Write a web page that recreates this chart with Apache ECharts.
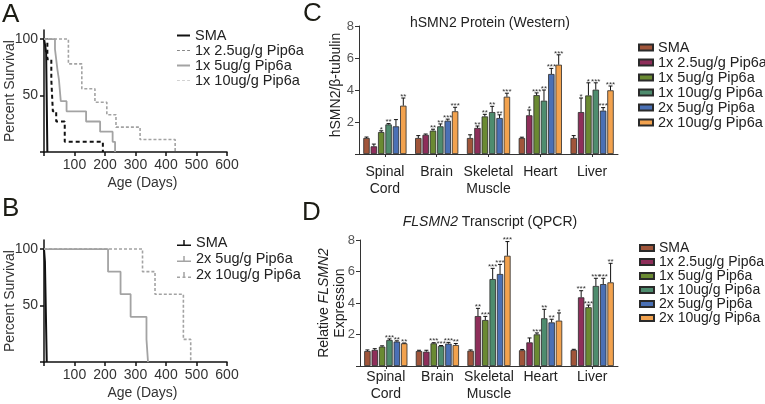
<!DOCTYPE html>
<html>
<head>
<meta charset="utf-8">
<script src="https://cdn.jsdelivr.net/npm/echarts@6/dist/echarts.min.js"></script>
<style>html,body{margin:0;background:#fff}#main{width:765px;height:404px}</style>
</head>
<body>
<div id="main"></div>
<script>
// --- survival curves, [day, % surviving] ---
const survA_SMA = [[0, 100], [4, 94], [7, 88], [11, 0]];
const survA_1x25 = [[0, 100], [11, 82], [24, 64], [29, 36], [40, 27], [68, 9], [193, 0]];
const survA_1x5 = [[0, 100], [36, 91], [40, 82], [44, 73], [49, 64], [55, 45], [74, 36], [138, 27], [184, 18], [225, 9], [233, 0]];
const survA_1x10 = [[0, 100], [80, 78], [124, 56], [167, 44], [206, 33], [236, 22], [315, 11], [430, 0]];

const survB_SMA = [[0, 100], [3, 89], [9, 0]];
const survB_2x5 = [[0, 100], [210, 80], [251, 60], [284, 40], [336, 20], [341, 0]];
const survB_2x10 = [[0, 100], [323, 80], [364, 60], [457, 20], [481, 0]];

const ageTicks = [100, 200, 300, 400, 500, 600];

// --- bar panels ---
const tissues = ['Spinal\nCord', 'Brain', 'Skeletal\nMuscle', 'Heart', 'Liver'];
const groups = ['SMA', '1x 2.5ug/g Pip6a', '1x 5ug/g Pip6a', '1x 10ug/g Pip6a', '2x 5ug/g Pip6a', '2x 10ug/g Pip6a'];
const groupColors = ['#a0553a', '#8e2e5a', '#6a8a32', '#4e8c6e', '#4a70b5', '#f2a24e'];

// hSMN2 protein (western), one row per group, one value per tissue
const westernMean = [
    [1.0, 1.0, 1.0, 1.0, 1.0],
    [0.48, 1.2, 1.63, 2.42, 2.62],
    [1.37, 1.46, 2.35, 3.68, 3.66],
    [1.85, 1.73, 2.62, 3.33, 4.02],
    [1.73, 2.08, 2.25, 5.0, 2.71],
    [3.02, 2.67, 3.58, 5.58, 3.98]
];
const westernTop = [
    [1.06, 1.15, 1.2, 1.05, 1.15],
    [0.62, 1.25, 1.75, 2.75, 3.5],
    [1.45, 1.55, 2.48, 3.82, 4.45],
    [1.9, 1.88, 2.98, 4.0, 4.45],
    [2.15, 2.18, 2.45, 5.35, 2.9],
    [3.5, 2.92, 3.8, 6.2, 4.25]
];
const westernStars = [
    ['', '', '', '', ''],
    ['', '', '**', '*', '*'],
    ['*', '**', '**', '***', '*'],
    ['**', '**', '**', '**', '***'],
    ['', '***', '**', '***', '***'],
    ['**', '***', '***', '***', '***']
];

// FLSMN2 transcript (qPCR)
const qpcrMean = [
    [0.95, 0.95, 0.97, 1.0, 1.02],
    [1.02, 0.91, 3.17, 1.5, 4.36],
    [1.23, 1.44, 2.92, 2.01, 3.73],
    [1.65, 1.27, 5.52, 3.03, 5.08],
    [1.55, 1.42, 5.84, 2.77, 5.2],
    [1.44, 1.33, 7.0, 2.88, 5.31]
];
const qpcrTop = [
    [1.02, 1.0, 1.02, 1.05, 1.06],
    [1.1, 1.0, 3.66, 1.78, 4.78],
    [1.28, 1.48, 3.15, 2.1, 3.87],
    [1.72, 1.3, 6.2, 3.6, 5.57],
    [1.6, 1.5, 6.45, 2.97, 5.57],
    [1.46, 1.43, 7.9, 3.37, 6.52]
];
const qpcrStars = [
    ['', '', '', '', ''],
    ['', '', '**', '', '***'],
    ['', '***', '***', '***', '***'],
    ['***', '***', '***', '**', '***'],
    ['**', '***', '***', '**', '***'],
    ['**', '**', '***', '*', '**']
];

const FONT = 'Liberation Sans';
const BAR_W = 6.4, BAR_GAP = 0.15;
const grey = '#a3a3a3';

// legend glyphs (stretched to itemWidth x itemHeight)
const iconSolid = 'rect';
const iconDash = 'path://M0,0h4v1h-4zM7,0h4v1h-4zM14,0h4v1h-4z';
const iconTickSolid = 'path://M0,4.5h14v1.5h-14zM6.25,0h1.5v4.5h-1.5z';
const iconTickDash = 'path://M0,4.5h3v1.5h-3zM5.5,4.5h3v1.5h-3zM11,4.5h3v1.5h-3zM6.25,0h1.5v4.5h-1.5z';

const chart = echarts.init(document.getElementById('main'), null, {renderer: 'canvas'});

function survX(grid) {
    return {
        type: 'value', gridIndex: grid, min: 0, max: 600, interval: 100,
        name: 'Age (Days)', nameLocation: 'middle', nameGap: 24, nameMoveOverlap: false,
        nameTextStyle: {fontSize: 14, color: '#333', padding: [0, 0, 0, 14]},
        axisLine: {show: true, lineStyle: {color: '#111', width: 1.5}},
        axisTick: {show: true, length: 4, lineStyle: {color: '#111', width: 1.5}},
        axisLabel: {fontSize: 14, color: '#333', margin: 6, customValues: ageTicks},
        splitLine: {show: false}
    };
}

function survY(grid) {
    return {
        type: 'value', gridIndex: grid, min: 0, max: 108, interval: 50,
        name: 'Percent Survival', nameLocation: 'middle', nameGap: 27, nameMoveOverlap: false,
        nameTextStyle: {fontSize: 14, color: '#333', lineHeight: 14},
        axisLine: {show: true, lineStyle: {color: '#111', width: 1.5}},
        axisTick: {show: true, length: 4, customValues: [0, 50, 100], lineStyle: {color: '#111', width: 1.5}},
        axisLabel: {fontSize: 14, color: '#333', margin: 6, customValues: [50, 100]},
        splitLine: {show: false}
    };
}

function barX(grid, margin) {
    return {
        type: 'category', gridIndex: grid, data: tissues,
        axisLine: {show: true, lineStyle: {color: '#333', width: 1}},
        axisTick: {show: true, alignWithLabel: true, length: 3, lineStyle: {color: '#333'}},
        axisLabel: {fontSize: 14, color: '#222', lineHeight: 17, margin: margin, interval: 0}
    };
}

function barY(grid, name, gap, pad, rich) {
    return {
        type: 'value', gridIndex: grid, min: 0, max: 8, interval: 2,
        name: name, nameLocation: 'middle', nameGap: gap, nameMoveOverlap: false,
        nameTextStyle: {fontSize: 14, color: '#222', lineHeight: 16, padding: pad, rich: rich},
        axisLine: {show: true, lineStyle: {color: '#333', width: 1}},
        axisTick: {show: true, length: 4, lineStyle: {color: '#333'}},
        axisLabel: {fontSize: 13, color: '#555', margin: 5, customValues: [2, 4, 6, 8]},
        splitLine: {show: false}
    };
}

function survLine(name, grid, data, color, width, type) {
    return {
        name: name, type: 'line', xAxisIndex: grid, yAxisIndex: grid, data: data,
        step: 'end', symbol: 'none', showSymbol: false,
        itemStyle: {color: color},
        lineStyle: {color: color, width: width, type: type}
    };
}

function barSeries(prefix, grid, means) {
    return groups.map(function (g, i) {
        return {
            name: prefix + g, type: 'bar', xAxisIndex: grid, yAxisIndex: grid,
            data: means[i], barWidth: BAR_W, barGap: (BAR_GAP * 100) + '%',
            itemStyle: {color: groupColors[i], borderColor: '#2a2a2a', borderWidth: 0.8}
        };
    });
}

// error bars + significance stars, placed with the same offsets the bar layout uses
function errorSeries(grid, means, tops, stars) {
    const rows = [];
    for (let g = 0; g < groups.length; g++) {
        for (let t = 0; t < tissues.length; t++) {
            rows.push([t, tops[g][t], means[g][t], g]);
        }
    }
    const n = groups.length;
    const total = n * BAR_W * (1 + BAR_GAP) - BAR_W * BAR_GAP;
    return {
        type: 'custom', xAxisIndex: grid, yAxisIndex: grid, data: rows, z: 5,
        renderItem: function (params, api) {
            const t = api.value(0), top = api.value(1), mean = api.value(2), g = api.value(3);
            const base = api.coord([t, mean]);
            const tip = api.coord([t, top]);
            const x = base[0] - total / 2 + g * BAR_W * (1 + BAR_GAP) + BAR_W / 2;
            const children = [
                {type: 'line', shape: {x1: x, y1: base[1], x2: x, y2: tip[1]}, style: {stroke: '#111', lineWidth: 1}},
                {type: 'line', shape: {x1: x - 2, y1: tip[1], x2: x + 2, y2: tip[1]}, style: {stroke: '#111', lineWidth: 1}}
            ];
            const s = stars[g][t];
            if (s) {
                children.push({
                    type: 'text',
                    style: {text: s, x: x, y: tip[1] - 1.5, align: 'center', verticalAlign: 'middle',
                        fontSize: 8, fontFamily: FONT, fill: '#333'}
                });
            }
            return {type: 'group', children: children};
        }
    };
}

const stripPrefix = function (name) { return name.slice(2); };

const option = {
    animation: false,
    textStyle: {fontFamily: FONT},
    grid: [
        {left: 44, top: 30, width: 183, height: 122, outerBoundsMode: 'none'},
        {left: 44, top: 240, width: 183, height: 122, outerBoundsMode: 'none'},
        {left: 359, top: 26, width: 259, height: 128, outerBoundsMode: 'none'},
        {left: 360, top: 240, width: 258, height: 126, outerBoundsMode: 'none'}
    ],
    xAxis: [survX(0), survX(1), barX(2, 10), barX(3, 3)],
    yAxis: [
        survY(0), survY(1),
        barY(2, 'hSMN2/\u03b2-tubulin', 15, [0, 0, 0, 10]),
        barY(3, 'Relative {i|FLSMN2}\nExpression', 12, 0, {i: {fontStyle: 'italic', fontSize: 14, color: '#222'}})
    ],
    legend: [
        {
            orient: 'vertical', left: 177, top: 28, padding: 0, itemGap: 0,
            itemWidth: 13, itemHeight: 2, selectedMode: false, formatter: stripPrefix,
            textStyle: {fontSize: 14.5, color: '#222', lineHeight: 15},
            data: [
                {name: 'A:SMA', icon: iconSolid},
                {name: 'A:1x 2.5ug/g Pip6a', icon: iconDash},
                {name: 'A:1x 5ug/g Pip6a', icon: iconSolid},
                {name: 'A:1x 10ug/g Pip6a', icon: iconDash}
            ]
        },
        {
            orient: 'vertical', left: 177, top: 235, padding: 0, itemGap: 0,
            itemWidth: 14, itemHeight: 6, selectedMode: false, formatter: stripPrefix,
            textStyle: {fontSize: 14.5, color: '#222', lineHeight: 16},
            data: [
                {name: 'B:SMA', icon: iconTickSolid},
                {name: 'B:2x 5ug/g Pip6a', icon: iconTickSolid},
                {name: 'B:2x 10ug/g Pip6a', icon: iconTickDash}
            ]
        },
        {
            orient: 'vertical', left: 638, top: 40, padding: 0, itemGap: 0,
            itemWidth: 14, itemHeight: 6, icon: 'rect', selectedMode: false, formatter: stripPrefix,
            textStyle: {fontSize: 14.5, color: '#222', lineHeight: 14},
            data: groups.map(function (g) { return 'C:' + g; })
        },
        {
            orient: 'vertical', left: 639, top: 241, padding: 0, itemGap: 0,
            itemWidth: 14, itemHeight: 6, icon: 'rect', selectedMode: false, formatter: stripPrefix,
            textStyle: {fontSize: 14, color: '#222', lineHeight: 13.6},
            data: groups.map(function (g) { return 'D:' + g; })
        }
    ],
    graphic: [
        {type: 'text', x: 2, y: 14.5, style: {text: 'A', fontSize: 26, fontFamily: FONT, fill: '#1c1c14', verticalAlign: 'middle'}},
        {type: 'text', x: 2, y: 209, style: {text: 'B', fontSize: 26, fontFamily: FONT, fill: '#1c1c14', verticalAlign: 'middle'}},
        {type: 'text', x: 303, y: 14, style: {text: 'C', fontSize: 26, fontFamily: FONT, fill: '#1c1c14', verticalAlign: 'middle'}},
        {type: 'text', x: 302, y: 212.5, style: {text: 'D', fontSize: 26, fontFamily: FONT, fill: '#1c1c14', verticalAlign: 'middle'}},
        {type: 'text', x: 490, y: 23, style: {text: 'hSMN2 Protein (Western)', fontSize: 14, fontFamily: FONT, fill: '#222', align: 'center', verticalAlign: 'middle'}},
        {
            type: 'text', x: 490, y: 222,
            style: {
                text: '{i|FLSMN2} Transcript (QPCR)', fontSize: 14, fontFamily: FONT, fill: '#222',
                align: 'center', verticalAlign: 'middle',
                rich: {i: {fontStyle: 'italic', fontSize: 14, fontFamily: FONT, fill: '#222'}}
            }
        }
    ],
    series: [
        survLine('A:SMA', 0, survA_SMA, '#111', 2, 'solid'),
        survLine('A:1x 2.5ug/g Pip6a', 0, survA_1x25, '#111', 2, [4, 3]),
        survLine('A:1x 5ug/g Pip6a', 0, survA_1x5, grey, 1.8, 'solid'),
        survLine('A:1x 10ug/g Pip6a', 0, survA_1x10, grey, 1.6, [3, 2]),
        survLine('B:SMA', 1, survB_SMA, '#111', 2, 'solid'),
        survLine('B:2x 5ug/g Pip6a', 1, survB_2x5, grey, 1.8, 'solid'),
        survLine('B:2x 10ug/g Pip6a', 1, survB_2x10, grey, 1.6, [3, 2])
    ]
        .concat(barSeries('C:', 2, westernMean))
        .concat(barSeries('D:', 3, qpcrMean))
        .concat([
            errorSeries(2, westernMean, westernTop, westernStars),
            errorSeries(3, qpcrMean, qpcrTop, qpcrStars)
        ])
};

chart.setOption(option);
</script>
</body>
</html>
